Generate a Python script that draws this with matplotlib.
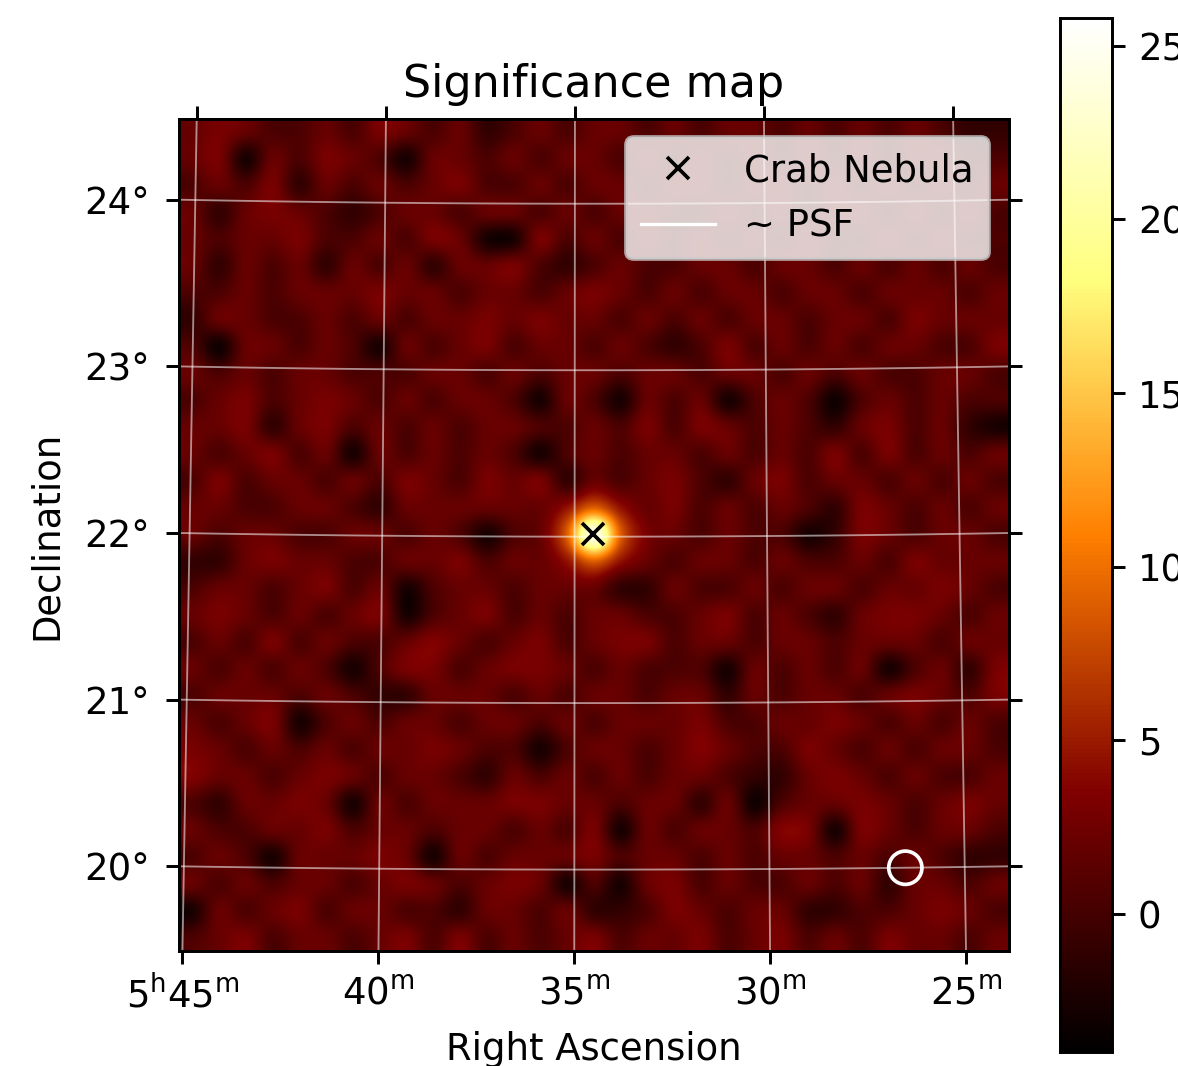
#! python3

import numpy as np
import matplotlib.pyplot as plt
from matplotlib.lines import Line2D
from matplotlib.patches import Circle

# Significance values, coarse grid, top row first
significance = [
    [2, 3, 2, .5, .5, 2, .5, 3, 2, .5, 2, -1, .5, 2, .5, 2, 2, .5, 2, .5, 2, 2, .5, 2, .5, 2, .5, 2, .5, -1, -1],
    [2, 3, -2.5, 2, .5, 3, 2, .5, -2.5, 2, 2, .5, 2, .5, 2, 2, .5, 2, .5, 2, .5, 2, .5, 2, .5, 2, .5, 2, 2, .5, .5],
    [.5, 2, .5, 3, -1, 2, .5, 2, .5, 2, 3, .5, .5, 2, .5, 2, 2, .5, 2, 2, .5, 2, 2, .5, 2, .5, 2, .5, 2, .5, 2],
    [2, -1, 2, 3, 2, .5, -1, .5, 2, 2, .5, 2, 2, .5, 2, .5, 2, 2, .5, .5, 2, .5, 2, .5, 2, 2, .5, 2, .5, 2, .5],
    [2, .5, 2, 2, 3, .5, .5, 2, .5, 3, 2, -2.5, -2.5, 3, .5, 2, .5, 2, .5, 2, .5, 2, .5, 2, .5, .5, 2, .5, 2, .5, .5],
    [2, -1, 2, .5, 2, -1, 2, .5, 2, -1, 2, 2, 3, .5, -1, .5, 2, .5, .5, 2, 2, .5, 2, 2, .5, 2, .5, 2, .5, 2, .5],
    [.5, .5, 2, .5, 2, 2, 2, 3, 2, 2, .5, 2, 2, .5, 2, 3, 2, .5, 2, .5, 2, 2, .5, 2, 2, .5, 2, 2, 2, .5, 2],
    [-1, 2, 2, .5, .5, 2, .5, 2, .5, 2, 2, 3, 2, 3, 2, 2, .5, 2, .5, 2, .5, 2, 2, .5, 2, 2, .5, 3, 2, 2, 2],
    [.5, -3, 2, 2, .5, 2, .5, -2.5, 2, .5, 2, 3, .5, 2, 2, .5, 2, .5, -1, .5, 3, .5, 2, .5, 2, .5, 2, 2, .5, .5, 3],
    [2, .5, 2, .5, 2, 2, .5, .5, .5, 2, 2, .5, 2, .5, 2, 2, .5, 2, 2, .5, 2, 2, .5, 2, .5, 2, .5, .5, 2, 2, .5],
    [.5, 2, 3, .5, 2, 3, 2, .5, 2, .5, 2, 2, .5, -2.5, 2, .5, -2.5, 2, .5, 2, -2.5, .5, 2, .5, -3, .5, 2, .5, 2, .5, .5],
    [2, 2, 3, -1, 2, 3, .5, 2, .5, 2, .5, 2, 2, .5, .5, 2, .5, 3, .5, 3, 2, .5, 2, .5, -1, 2, 3, .5, 2, -1, -2.5],
    [2, .5, 2, 3, .5, 2, -2.5, 2, .5, 2, .5, 2, .5, -2.5, .5, 2, .5, 2, 2, .5, 2, .5, 2, .5, 3, .5, 3, .5, 2, .5, 2],
    [.5, 3, .5, 2, 2, .5, 2, .5, 3, 2, .5, 3, 2, 3, -1, 2, .5, 2, 3, .5, -1, 2, 3, .5, 2, 2, .5, 2, .5, 2, .5],
    [2, 2, .5, .5, 2, 2, .5, -1, 2, 2, 2, 2, 2, 2, 4.5, 9, 4.5, 2, 3, .5, 2, .5, 2, .5, -1, 3, 2, .5, 2, .5, 2],
    [2, .5, 2, 2, .5, .5, 2, 2, .5, 2, .5, -2.5, .5, 2, 9, 25, 9, 3, 2, .5, 2, .5, .5, -2.5, -1, 3, 2, .5, 2, 2, .5],
    [-1, -1, 2, 3, 2, 2, .5, .5, 2, 2, 3, .5, 2, 2, 4.5, 9, 4.5, 2, .5, 2, 2, .5, 2, .5, .5, 2, .5, 3, 2, 2, 2],
    [.5, 2, 2, .5, 2, 3, .5, 2, -2.5, .5, 2, 2, .5, 2, 2, 2, -1, -1, 2, .5, .5, 2, .5, 2, 2, .5, 2, 2, 3, 2, .5],
    [2, 3, 2, .5, 2, .5, 2, 3, -2.5, .5, 2, 3, .5, 2, .5, 2, 2, .5, .5, 2, 3, .5, 2, .5, -1, 2, 3, 3, 2, .5, 2],
    [.5, 2, .5, 3, .5, 2, .5, .5, 2, 3.5, 2, .5, 2, 3, .5, 2, 3, 3, .5, 2, 2, .5, 2, 2, .5, 2, 2, 2, .5, 2, 2],
    [2, .5, 2, .5, 2, .5, -2.5, .5, 3, 3, .5, 2, 3, 3, 2, .5, 2, .5, .5, .5, -2.5, 2, .5, 2, .5, 2, -2.5, .5, 2, -1, 3],
    [.5, 2, 2, 2, .5, 2, .5, -1, -1, 2, 2, 2, .5, 2, .5, 2, 2, .5, 2, 2, -1, 2, .5, 2, 2, .5, 2, 3, 2, .5, 3],
    [2, .5, 2, 3, -2.5, .5, 2, .5, 2, 2, .5, 2, 2, .5, 2, .5, 2, 2, 2, 3, .5, .5, 2, 2, 3, 2, .5, 2, .5, 2, .5],
    [3, 2, .5, 2, .5, 2, .5, 2, 2, 3, 2, .5, .5, -2.5, .5, 2, 2, .5, 2, 3.5, 2, .5, .5, 3, 2, .5, 2, .5, 2, 2, .5],
    [3.5, 2, 2, .5, 2, 3, 2, .5, 2, 2, .5, -1, 2, .5, 2, .5, 2, .5, 2, 2, .5, -1, -1, 2, 3, 2, .5, 2, .5, .5, 2],
    [.5, -1, 2, 2, 3, 2, -2.5, 2, .5, 2, 2, 2, 3, 3, 2, 2, .5, 2, 2, -1, 2, -3, .5, 2, 2, 3, 2, .5, 2, 3, 2],
    [2, .5, .5, 2, 2, 3, .5, 2, 2, .5, 2, 2, .5, 2, .5, 3, -2.5, 2, .5, 2, 2, .5, 3.5, 3, -2.5, 3, 2, .5, 2, 2, .5],
    [.5, 2, .5, -2.5, 2, 2, 2, 3, 2, -2.5, 2, .5, 2, 2, 2, 3, .5, 2, 2, .5, 2, .5, 2, 2, .5, 2, .5, 2, .5, -1, -1],
    [2, .5, 2, .5, 2, 2, .5, 2, 3, 2, .5, 2, 3, 2, -2.5, .5, -2.5, 2, 3, .5, 2, .5, .5, 2, .5, 2, -1, 2, 2, .5, 2],
    [-2.5, 2, .5, 2, 3, .5, 2, 2, .5, .5, -1, 2, 2, .5, 2, -1, -1, .5, 3, 2, .5, 2, 2, -1, -1, .5, .5, 2, 3, 2, .5],
    [.5, 2, 3, .5, 2, 2, .5, 2, 3, .5, 3, .5, 2, .5, 2, 3, .5, 2, 2, 3, .5, 2, 3, .5, 2, .5, 3, 2, 2, .5, 2],
]

ra_ticks_min = [45, 40, 35, 30, 25]  # minutes of right ascension after 5h
dec_ticks = [20, 21, 22, 23, 24]
cbar_ticks = [0, 5, 10, 15, 20, 25]

ra_center, dec_center = 83.624, 22.01
half_width = 2.5
crab_ra, crab_dec = 83.633, 22.0145
psf_ra, psf_dec = 81.63, 20.0
psf_radius = 0.1


def project(ra, dec):
    # gnomonic projection, result in degrees from the map centre
    d = np.radians(np.asarray(ra) - ra_center)
    dec = np.radians(dec)
    dec0 = np.radians(dec_center)
    cosc = np.sin(dec0) * np.sin(dec) + np.cos(dec0) * np.cos(dec) * np.cos(d)
    xi = np.cos(dec) * np.sin(d) / cosc
    eta = (np.cos(dec0) * np.sin(dec) - np.sin(dec0) * np.cos(dec) * np.cos(d)) / cosc
    return np.degrees(xi), np.degrees(eta)


W, H, DPI = 1178, 1066, 266
fig = plt.figure(figsize=(W / DPI, H / DPI), dpi=DPI)
ax = fig.add_axes([179 / W, 1 - 951 / H, 830 / W, 832 / H])

im = ax.imshow(significance, cmap='afmhot', vmin=-3.97, vmax=25.8, origin='upper',
               extent=(half_width, -half_width, -half_width, half_width),
               interpolation='catrom', aspect='auto')

# Coordinate grid
ra_values = [5 * 15 + m / 4 for m in ra_ticks_min]
dec_line = np.linspace(18.5, 25.5, 100)
ra_line = np.linspace(79.5, 87.5, 100)
for ra in ra_values:
    ax.plot(*project(np.full_like(dec_line, ra), dec_line), color='white', alpha=0.55, lw=0.5)
for dec in dec_ticks:
    ax.plot(*project(ra_line, np.full_like(ra_line, dec)), color='white', alpha=0.55, lw=0.5)

# Ticks sit where the grid lines meet the frame
bottom, top = [], []
for ra in ra_values:
    xi, eta = project(np.full_like(dec_line, ra), dec_line)
    bottom.append(np.interp(-half_width, eta, xi))
    top.append(np.interp(half_width, eta, xi))
left = []
for dec in dec_ticks:
    xi, eta = project(ra_line, np.full_like(ra_line, dec))
    left.append(np.interp(half_width, xi, eta))

ax.set_xticks(bottom)
ax.set_xticklabels([r'$5^{\mathrm{h}}45^{\mathrm{m}}$'] +
                   [rf'${m}^{{\mathrm{{m}}}}$' for m in ra_ticks_min[1:]])
ax.set_yticks(left)
ax.set_yticklabels([f'{d}°' for d in dec_ticks])
ax.tick_params(right=True)
ax.tick_params(axis='x', pad=3)
ax.tick_params(axis='y', pad=4.5)
sec = ax.secondary_xaxis('top')
sec.set_xticks(top)
sec.set_xticklabels([])

ax.set_xlim(half_width, -half_width)
ax.set_ylim(-half_width, half_width)

crab_x, crab_y = project(crab_ra, crab_dec)
ax.plot(crab_x, crab_y, marker='x', color='black', linestyle='none')
psf_x, psf_y = project(psf_ra, psf_dec)
ax.add_patch(Circle((psf_x, psf_y), psf_radius, fill=False, edgecolor='white', lw=1.0))

handles = [Line2D([], [], marker='x', color='black', linestyle='none', label='Crab Nebula'),
           Line2D([], [], color='white', lw=0.9, label='~ PSF')]
ax.legend(handles=handles, loc='upper right', bbox_to_anchor=(0.998, 1))

ax.set_title('Significance map')
ax.set_xlabel('Right Ascension', labelpad=4.5)
ax.set_ylabel('Declination', labelpad=5.2)

cax = fig.add_axes([1060 / W, 1 - 1052 / H, 52 / W, 1034 / H])
cbar = fig.colorbar(im, cax=cax)
cbar.set_ticks(cbar_ticks)

fig.savefig('out.png', dpi=DPI)
